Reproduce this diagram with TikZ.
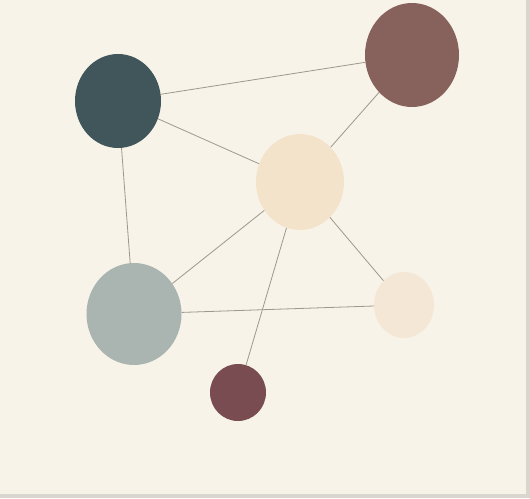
\documentclass[tikz,border=0pt]{standalone}
\usetikzlibrary{shapes.geometric}
\definecolor{bgpage}{HTML}{F7F3E9}
\definecolor{shadowc}{HTML}{D9D6D0}
\definecolor{tealc}{HTML}{40565A}
\definecolor{brownc}{HTML}{87625C}
\definecolor{creamc}{HTML}{F4E3CB}
\definecolor{greyc}{HTML}{AAB5B2}
\definecolor{lightc}{HTML}{F4E7D6}
\definecolor{wine}{HTML}{784C50}
\definecolor{linec}{HTML}{9C988E}
\tikzset{
  blob/.style={ellipse, inner sep=0pt, draw=none},
  link/.style={draw=linec, line width=0.8pt}
}
\begin{document}
\begin{tikzpicture}[x=1pt,y=-1pt]
\useasboundingbox (0,0) rectangle (530,498);
\fill[shadowc] (0,0) rectangle (530,498);
\fill[bgpage] (0,0) rectangle (526,494);
\node[blob, fill=tealc, minimum width=86pt, minimum height=94pt] (teal) at (118,101) {};
\node[blob, fill=brownc, minimum width=94pt, minimum height=104pt] (brown) at (412,55) {};
\node[blob, fill=creamc, minimum width=88pt, minimum height=96pt] (center) at (300,182) {};
\node[blob, fill=greyc, minimum width=95pt, minimum height=102pt] (grey) at (134,314) {};
\node[blob, fill=lightc, minimum width=60pt, minimum height=66pt] (light) at (404,305) {};
\node[blob, fill=wine, minimum width=56pt, minimum height=57pt] (wine) at (238,392.5) {};
\draw[link] (teal) -- (brown);
\draw[link] (teal) -- (center);
\draw[link] (brown) -- (center);
\draw[link] (teal) -- (grey);
\draw[link] (center) -- (grey);
\draw[link] (center) -- (light);
\draw[link] (grey) -- (light);
\draw[link] (center) -- (wine);
\end{tikzpicture}
\end{document}
